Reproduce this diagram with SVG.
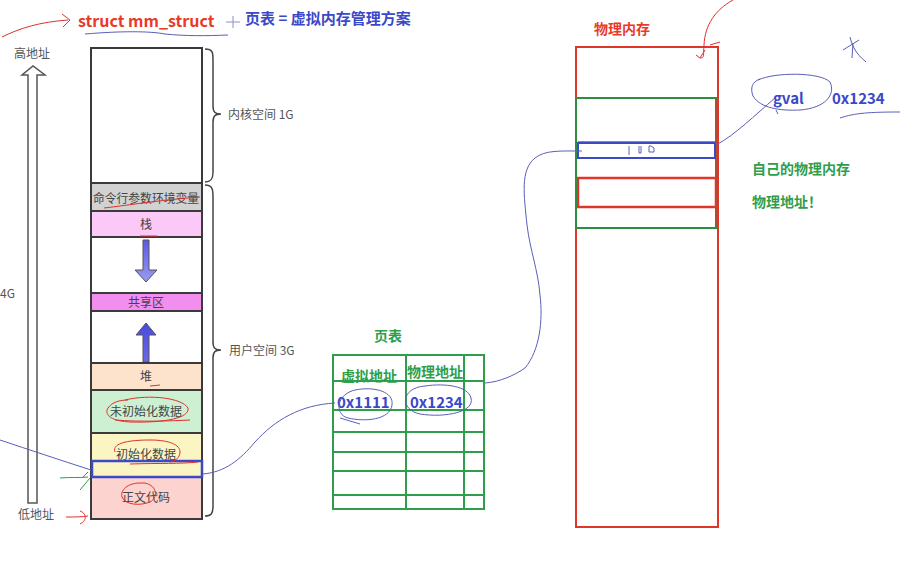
<svg xmlns="http://www.w3.org/2000/svg" width="917" height="570" viewBox="0 0 917 570">
<defs>
<style>
.t{font-family:"Noto Sans CJK SC","Liberation Sans",sans-serif;}
.seg{stroke:#3a3a3a;stroke-width:2;}
.lbl{font-family:"Noto Sans CJK SC","Liberation Sans",sans-serif;font-size:12px;fill:#444;text-anchor:middle;}
.side{font-family:"Noto Sans CJK SC","Liberation Sans",sans-serif;font-size:12px;fill:#555;}
.brace{fill:none;stroke:#444;stroke-width:1.5;}
.ink{fill:none;stroke:#5a5fb8;stroke-width:1;}
.red{fill:none;stroke:#e03030;stroke-width:1;}
.gr{stroke:#2e9e4a;stroke-width:2;fill:none;}
.bb{font-family:"Noto Sans CJK SC","Liberation Sans",sans-serif;font-weight:bold;fill:#3b48c8;}
.gb{font-family:"Noto Sans CJK SC","Liberation Sans",sans-serif;font-weight:bold;fill:#2e9e4a;}
</style>
<linearGradient id="arr" x1="0" y1="0" x2="0" y2="1"><stop offset="0" stop-color="#5a5ae8"/><stop offset="1" stop-color="#9a9af0"/></linearGradient>
<linearGradient id="arrU" x1="0" y1="0" x2="0" y2="1"><stop offset="0" stop-color="#4a4ae0"/><stop offset="1" stop-color="#6a6ae8"/></linearGradient>
</defs>
<rect width="917" height="570" fill="#ffffff"/>

<!-- header -->
<g id="header">
<path class="red" d="M2,37 C20,28 40,22 68,20 M62,14 L70,20 L63,27"/>
<text x="78" y="27" class="t" font-size="16" font-weight="bold" fill="#e83a2a">struct mm_struct</text>
<path class="ink" d="M85,34 C120,31 150,31 165,34 C185,36 205,36 228,35"/>
<path d="M226,22 L240,22 M233,16 L233,28" stroke="#8890c8" stroke-width="1"/>
<text x="245" y="24" class="bb" font-size="15">页表 = 虚拟内存管理方案</text>
</g>

<!-- address arrow -->
<g id="addr-arrow">
<text x="14" y="58" class="side">高地址</text>
<path d="M28,75 L22,75 L33,66 L45,75 L37,75 L37,503 L28,503 Z" fill="#fff" stroke="#555" stroke-width="1.5"/>
<line x1="31" y1="76" x2="31" y2="502" stroke="#fff" stroke-width="3"/>
<text x="0" y="298" class="side">4G</text>
<text x="18" y="519" class="side">低地址</text>
</g>

<!-- virtual memory column -->
<g id="vmem">
<rect x="91" y="48" width="111" height="135" fill="#fff" class="seg"/>
<rect x="91" y="183" width="111" height="28" fill="#d2d2d2" class="seg"/>
<text x="146" y="203" class="lbl" textLength="106" lengthAdjust="spacingAndGlyphs">命令行参数环境变量</text>
<rect x="91" y="211" width="111" height="26" fill="#fbc9f7" class="seg"/>
<text x="146" y="229" class="lbl">栈</text>
<rect x="91" y="237" width="111" height="56" fill="#fff" class="seg"/>
<path d="M143,240 L149,240 L149,270 L157,270 L146,282 L135,270 L143,270 Z" fill="url(#arr)" stroke="#555" stroke-width="1"/>
<rect x="91" y="293" width="111" height="18" fill="#f28ef0" class="seg"/>
<text x="146" y="307" class="lbl">共享区</text>
<rect x="91" y="311" width="111" height="52" fill="#fff" class="seg"/>
<path d="M143,362 L143,335 L136,335 L146,323 L156,335 L149,335 L149,362 Z" fill="url(#arrU)" stroke="#555" stroke-width="1"/>
<rect x="91" y="363" width="111" height="27" fill="#fde3cc" class="seg"/>
<text x="146" y="381" class="lbl">堆</text>
<rect x="91" y="390" width="111" height="43" fill="#cdf0d2" class="seg"/>
<text x="146" y="416" class="lbl">未初始化数据</text>
<rect x="91" y="433" width="111" height="44" fill="#fbf5c4" class="seg"/>
<text x="146" y="459" class="lbl">初始化数据</text>
<rect x="91" y="477" width="111" height="42" fill="#fdd3d0" class="seg"/>
<text x="146" y="502" class="lbl">正文代码</text>
<rect x="92" y="461" width="110" height="16" fill="none" stroke="#3b48c8" stroke-width="2.5"/>
<!-- annotations -->
<path class="red" d="M104,208 C130,205 160,200 200,197"/>
<path class="red" d="M140,236 L157,236"/>
<path class="red" d="M150,386 L160,385"/>
<path class="red" d="M125,400 C150,394 182,398 188,408 C190,418 165,423 130,422 C110,421 104,414 108,408 C112,402 120,400 128,400 M115,420 C140,422 170,421 190,420"/>
<path class="red" d="M115,452 C112,444 125,440 150,440 C170,440 180,445 180,452 C180,458 175,461 170,462 M130,464 C160,463 180,464 198,462"/>
<path class="red" d="M140,483 C128,483 120,490 122,497 C125,505 140,506 150,502 C158,498 158,486 145,483 L140,483"/>
<path d="M60,478 C70,477 80,478 88,477 M82,478 L88,472 M80,490 L90,478" fill="none" stroke="#2e9e4a" stroke-width="1"/>
<path class="red" d="M66,517 C75,517 82,517 88,516 M80,511 C86,513 88,520 80,524"/>
</g>

<!-- braces -->
<g id="braces">
<path class="brace" d="M205,49 C213,49 213,53 213,60 L213,106 C213,112 215,114 221,114 C215,114 213,116 213,122 L213,172 C213,179 211,182 205,182"/>
<text x="228" y="119" class="side">内核空间 1G</text>
<path class="brace" d="M205,185 C213,185 213,190 213,198 L213,342 C213,348 215,350 221,350 C215,350 213,352 213,358 L213,506 C213,514 211,516 205,516"/>
<text x="229" y="355" class="side">用户空间 3G</text>
</g>

<!-- page table -->
<g id="pagetable">
<text x="374" y="341" class="gb" font-size="14">页表</text>
<rect x="333" y="355" width="151" height="154" class="gr"/>
<line x1="406" y1="355" x2="406" y2="509" class="gr"/>
<line x1="464" y1="355" x2="464" y2="509" class="gr"/>
<line x1="333" y1="381" x2="484" y2="381" class="gr"/>
<line x1="333" y1="410" x2="484" y2="410" class="gr"/>
<line x1="333" y1="432" x2="484" y2="432" class="gr"/>
<line x1="333" y1="452" x2="484" y2="452" class="gr"/>
<line x1="333" y1="471" x2="484" y2="471" class="gr"/>
<line x1="333" y1="495" x2="484" y2="495" class="gr"/>
<text x="341" y="381" class="gb" font-size="14">虚拟地址</text>
<text x="407" y="377" class="gb" font-size="14">物理地址</text>
<text x="337" y="408" class="bb" font-size="15">0x1111</text>
<text x="410" y="408" class="bb" font-size="15">0x1234</text>
<path class="ink" d="M355,390 C335,395 335,415 348,418 C365,422 390,420 392,405 C394,392 375,386 355,390 M340,418 L360,424"/>
<path class="ink" d="M425,386 C400,388 400,410 420,414 C445,418 475,412 471,398 C468,386 445,383 425,386"/>
</g>

<!-- physical memory -->
<g id="pmem">
<text x="594" y="34" class="t" font-size="14" font-weight="bold" fill="#e83a2a">物理内存</text>
<rect x="576" y="47" width="142" height="480" fill="none" stroke="#e0352b" stroke-width="2"/>
<rect x="578" y="178" width="138" height="29" fill="none" stroke="#e0352b" stroke-width="2.5"/>
<line x1="578" y1="142" x2="716" y2="142" stroke="#e0352b" stroke-width="1.5"/>
<rect x="576" y="98" width="140" height="130" fill="none" stroke="#2e8e40" stroke-width="2"/>
<line x1="716" y1="100" x2="716" y2="226" stroke="#e0352b" stroke-width="1.5"/>
<rect x="578" y="143" width="137" height="15" fill="none" stroke="#3b48c8" stroke-width="2"/>
<path d="M629,146 L629,155 M639,146 L639,153 L641,153 L641,146 M649,146 L649,152 L654,152 L654,148 L651,146 Z" fill="none" stroke="#5a5fb8" stroke-width="1"/>
<text x="752" y="174" class="gb" font-size="14">自己的物理内存</text>
<text x="752" y="207" class="gb" font-size="14">物理地址！</text>
</g>

<!-- gval -->
<g id="gval">
<text x="773" y="104" class="bb" font-size="15">gval</text>
<text x="832" y="104" class="bb" font-size="15">0x1234</text>
<path class="ink" d="M758,80 C775,72 820,72 830,82 C836,95 825,108 800,110 C780,111 760,108 753,96 C750,88 752,82 760,79 M776,110 L778,114"/>
<path class="ink" d="M840,118 C855,113 870,112 900,112"/>
<path class="ink" d="M843,50 L859,40 M850,37 C852,45 855,53 866,62 M853,43 L852,58"/>
</g>

<!-- connectors -->
<g id="connectors">
<path class="ink" d="M0,440 C30,450 60,460 91,470"/>
<path class="ink" d="M203,474 C225,472 240,460 255,442 C275,420 300,405 335,403"/>
<path class="ink" d="M485,383 C500,382 515,375 525,368 C540,350 543,320 540,295 C538,270 530,250 527,225 C524,195 520,170 535,158 C545,150 560,151 582,151"/>
<path class="ink" d="M716,145 C735,135 755,115 775,98"/>
<path class="red" d="M733,0 C715,10 705,25 704,45 C703,55 705,58 700,58 M696,55 L700,58 L705,50 M710,45 L720,42"/>
</g>
</svg>
